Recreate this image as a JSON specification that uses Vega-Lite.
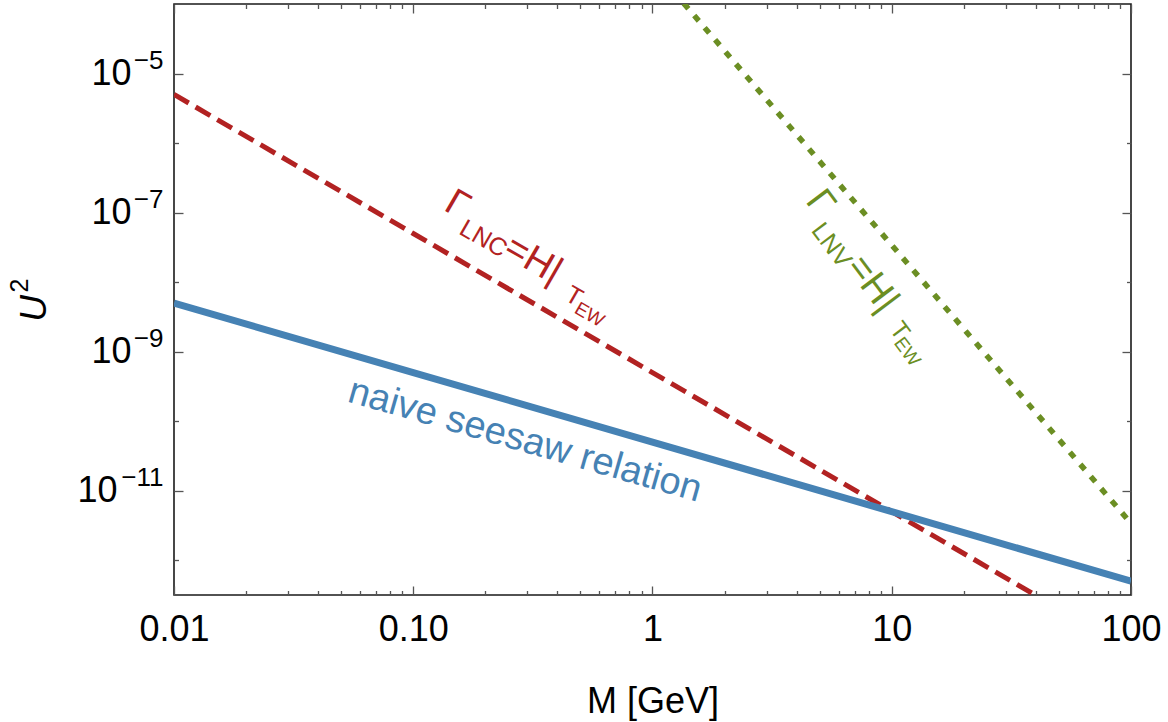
{
  "$schema": "https://vega.github.io/schema/vega-lite/v6.json",
  "width": 957,
  "height": 591,
  "autosize": {"type": "none"},
  "padding": {"left": 174, "top": 4, "right": 37, "bottom": 127},
  "background": "white",
  "config": {
    "view": {"stroke": "#1a1a1a", "strokeWidth": 1.6},
    "axis": {"grid": false, "domain": false, "tickColor": "#555555", "tickWidth": 1.3, "labelFont": "Liberation Sans", "titleFont": "Liberation Sans", "labelColor": "black", "titleColor": "black", "titleFontWeight": "normal", "labelFlush": false, "labelOverlap": false, "labelBound": false},
    "text": {"font": "Liberation Sans"}
  },
  "datasets": {
    "curves": [
      {"M": 0.01, "U2": 5e-9, "curve": "seesaw"},
      {"M": 0.1, "U2": 5e-10, "curve": "seesaw"},
      {"M": 1, "U2": 5e-11, "curve": "seesaw"},
      {"M": 10, "U2": 5e-12, "curve": "seesaw"},
      {"M": 100, "U2": 5e-13, "curve": "seesaw"},
      {"M": 0.01, "U2": 5e-6, "curve": "LNC"},
      {"M": 0.1, "U2": 5e-8, "curve": "LNC"},
      {"M": 1, "U2": 5e-10, "curve": "LNC"},
      {"M": 10, "U2": 5e-12, "curve": "LNC"},
      {"M": 100, "U2": 5e-14, "curve": "LNC"},
      {"M": 1, "U2": 3.4e-4, "curve": "LNV"},
      {"M": 10, "U2": 3.4e-8, "curve": "LNV"},
      {"M": 100, "U2": 3.4e-12, "curve": "LNV"}
    ],
    "notes": [
      {"M": 0.293, "U2": 5.2e-11, "text": "naive seesaw relation", "curve": "seesaw", "part": "main"},
      {"M": 0.1525, "U2": 1.28e-7, "text": "Γ", "curve": "LNC", "part": "main"},
      {"M": 0.1966, "U2": 4.21e-8, "text": "LNC", "curve": "LNC", "part": "sub"},
      {"M": 0.3166, "U2": 2.07e-8, "text": "=H|", "curve": "LNC", "part": "main"},
      {"M": 0.47, "U2": 6.3e-9, "text": "T", "curve": "LNC", "part": "sub"},
      {"M": 0.545, "U2": 3.4e-9, "text": "EW", "curve": "LNC", "part": "subsub"},
      {"M": 5.01, "U2": 1.37e-7, "text": "Γ", "curve": "LNV", "part": "main"},
      {"M": 5.6, "U2": 3.4e-8, "text": "LNV", "curve": "LNV", "part": "sub"},
      {"M": 8.27, "U2": 9.35e-9, "text": "=H|", "curve": "LNV", "part": "main"},
      {"M": 10.8, "U2": 2.0e-9, "text": "T", "curve": "LNV", "part": "sub"},
      {"M": 11.6, "U2": 1.0e-9, "text": "EW", "curve": "LNV", "part": "subsub"}
    ]
  },
  "resolve": {"axis": {"x": "independent", "y": "independent"}},
  "layer": [
    {
      "data": {"name": "curves"},
      "transform": [{"filter": "datum.curve === 'LNC'"}],
      "mark": {"type": "line", "clip": true, "color": "#B22222", "strokeWidth": 5, "strokeDash": [17, 8], "strokeCap": "butt"},
      "encoding": {
        "x": {"field": "M", "type": "quantitative", "scale": {"type": "log", "domain": [0.01, 100], "nice": false},
          "axis": {"orient": "bottom", "values": [0.02,0.03,0.04,0.05,0.06,0.07,0.08,0.09,0.2,0.3,0.4,0.5,0.6,0.7,0.8,0.9,2,3,4,5,6,7,8,9,20,30,40,50,60,70,80,90], "tickSize": -4.5, "labels": false, "title": null}},
        "y": {"field": "U2", "type": "quantitative", "scale": {"type": "log", "domain": [3.162e-13, 1e-4], "nice": false},
          "axis": {"orient": "left", "values": [1e-6, 1e-8, 1e-10, 1e-12], "tickSize": -4.5, "labels": false, "title": null}}
      }
    },
    {
      "data": {"name": "curves"},
      "transform": [{"filter": "datum.curve === 'LNV'"}],
      "mark": {"type": "line", "clip": true, "color": "#6B8E23", "strokeWidth": 5.5, "strokeDash": [7, 9], "strokeCap": "butt"},
      "encoding": {
        "x": {"field": "M", "type": "quantitative", "scale": {"type": "log", "domain": [0.01, 100], "nice": false},
          "axis": {"orient": "top", "values": [0.01, 0.1, 1, 10, 100], "tickSize": -9, "labels": false, "title": null}},
        "y": {"field": "U2", "type": "quantitative", "scale": {"type": "log", "domain": [3.162e-13, 1e-4], "nice": false},
          "axis": {"orient": "right", "values": [1e-5, 1e-7, 1e-9, 1e-11], "tickSize": -9, "labels": false, "title": null}}
      }
    },
    {
      "data": {"name": "curves"},
      "transform": [{"filter": "datum.curve === 'seesaw'"}],
      "mark": {"type": "line", "clip": true, "color": "#4682B4", "strokeWidth": 7},
      "encoding": {
        "x": {"field": "M", "type": "quantitative", "scale": {"type": "log", "domain": [0.01, 100], "nice": false},
          "axis": {"orient": "bottom", "values": [0.01, 0.1, 1, 10, 100], "tickSize": -9, "labelFontSize": 36, "labelPadding": 26,
            "labelExpr": "datum.value < 0.05 ? '0.01' : datum.value < 0.5 ? '0.10' : datum.value < 5 ? '1' : datum.value < 50 ? '10' : '100'",
            "title": "M [GeV]", "titleFontSize": 36, "titleY": 117, "titleBaseline": "alphabetic"}},
        "y": {"field": "U2", "type": "quantitative", "scale": {"type": "log", "domain": [3.162e-13, 1e-4], "nice": false},
          "axis": {"orient": "left", "values": [1e-5, 1e-7, 1e-9, 1e-11], "tickSize": -9, "labelFontSize": 36, "labelAlign": "right",
            "labelPadding": {"condition": {"test": "datum.value < 5e-11", "value": 66}, "value": 52},
            "labelExpr": "'10'",
            "title": "U", "titleFontSize": 37, "titleFontStyle": "italic", "titleX": -129, "titleY": 304, "titleBaseline": "alphabetic"}}
      }
    },
    {
      "data": {"name": "notes"},
      "transform": [{"filter": "datum.curve === 'seesaw'"}],
      "mark": {"type": "text", "color": "#4682B4", "fontSize": 38, "angle": 16, "align": "center", "baseline": "middle"},
      "encoding": {
        "x": {"field": "M", "type": "quantitative", "scale": {"type": "log", "domain": [0.01, 100], "nice": false},
          "axis": {"orient": "top", "values": [0.02,0.03,0.04,0.05,0.06,0.07,0.08,0.09,0.2,0.3,0.4,0.5,0.6,0.7,0.8,0.9,2,3,4,5,6,7,8,9,20,30,40,50,60,70,80,90], "tickSize": -4.5, "labels": false, "title": null}},
        "y": {"field": "U2", "type": "quantitative", "scale": {"type": "log", "domain": [3.162e-13, 1e-4], "nice": false},
          "axis": {"orient": "right", "values": [1e-6, 1e-8, 1e-10, 1e-12], "tickSize": -4.5, "labels": false, "title": null}},
        "text": {"field": "text"}
      }
    },
    {
      "data": {"name": "notes"},
      "transform": [{"filter": "datum.curve === 'LNC' && datum.part === 'main'"}],
      "mark": {"type": "text", "color": "#B22222", "fontSize": 38, "angle": 30, "align": "center", "baseline": "middle"},
      "encoding": {
        "x": {"field": "M", "type": "quantitative", "scale": {"type": "log", "domain": [0.01, 100], "nice": false}, "axis": null},
        "y": {"field": "U2", "type": "quantitative", "scale": {"type": "log", "domain": [3.162e-13, 1e-4], "nice": false},
          "axis": {"orient": "left", "values": [1e-5, 1e-7, 1e-9, 1e-11], "ticks": false, "labelFontSize": 26, "labelAlign": "right", "labelBaseline": "middle",
            "labelPadding": 11, "labelOffset": -13,
            "labelExpr": "datum.value > 5e-6 ? '−5' : datum.value > 5e-8 ? '−7' : datum.value > 5e-10 ? '−9' : '−11'",
            "title": "2", "titleFontSize": 25, "titleX": -147, "titleY": 281, "titleBaseline": "alphabetic"}},
        "text": {"field": "text"}
      }
    },
    {
      "data": {"name": "notes"},
      "transform": [{"filter": "datum.curve === 'LNC' && datum.part === 'sub'"}],
      "mark": {"type": "text", "color": "#B22222", "fontSize": 25, "angle": 30, "align": "center", "baseline": "middle"},
      "encoding": {
        "x": {"field": "M", "type": "quantitative", "scale": {"type": "log", "domain": [0.01, 100], "nice": false}, "axis": null},
        "y": {"field": "U2", "type": "quantitative", "scale": {"type": "log", "domain": [3.162e-13, 1e-4], "nice": false}, "axis": null},
        "text": {"field": "text"}
      }
    },
    {
      "data": {"name": "notes"},
      "transform": [{"filter": "datum.curve === 'LNC' && datum.part === 'subsub'"}],
      "mark": {"type": "text", "color": "#B22222", "fontSize": 19, "angle": 30, "align": "center", "baseline": "middle"},
      "encoding": {
        "x": {"field": "M", "type": "quantitative", "scale": {"type": "log", "domain": [0.01, 100], "nice": false}, "axis": null},
        "y": {"field": "U2", "type": "quantitative", "scale": {"type": "log", "domain": [3.162e-13, 1e-4], "nice": false}, "axis": null},
        "text": {"field": "text"}
      }
    },
    {
      "data": {"name": "notes"},
      "transform": [{"filter": "datum.curve === 'LNV' && datum.part === 'main'"}],
      "mark": {"type": "text", "color": "#6B8E23", "fontSize": 38, "angle": 53, "align": "center", "baseline": "middle"},
      "encoding": {
        "x": {"field": "M", "type": "quantitative", "scale": {"type": "log", "domain": [0.01, 100], "nice": false}, "axis": null},
        "y": {"field": "U2", "type": "quantitative", "scale": {"type": "log", "domain": [3.162e-13, 1e-4], "nice": false}, "axis": null},
        "text": {"field": "text"}
      }
    },
    {
      "data": {"name": "notes"},
      "transform": [{"filter": "datum.curve === 'LNV' && datum.part === 'sub'"}],
      "mark": {"type": "text", "color": "#6B8E23", "fontSize": 25, "angle": 53, "align": "center", "baseline": "middle"},
      "encoding": {
        "x": {"field": "M", "type": "quantitative", "scale": {"type": "log", "domain": [0.01, 100], "nice": false}, "axis": null},
        "y": {"field": "U2", "type": "quantitative", "scale": {"type": "log", "domain": [3.162e-13, 1e-4], "nice": false}, "axis": null},
        "text": {"field": "text"}
      }
    },
    {
      "data": {"name": "notes"},
      "transform": [{"filter": "datum.curve === 'LNV' && datum.part === 'subsub'"}],
      "mark": {"type": "text", "color": "#6B8E23", "fontSize": 19, "angle": 53, "align": "center", "baseline": "middle"},
      "encoding": {
        "x": {"field": "M", "type": "quantitative", "scale": {"type": "log", "domain": [0.01, 100], "nice": false}, "axis": null},
        "y": {"field": "U2", "type": "quantitative", "scale": {"type": "log", "domain": [3.162e-13, 1e-4], "nice": false}, "axis": null},
        "text": {"field": "text"}
      }
    }
  ]
}
